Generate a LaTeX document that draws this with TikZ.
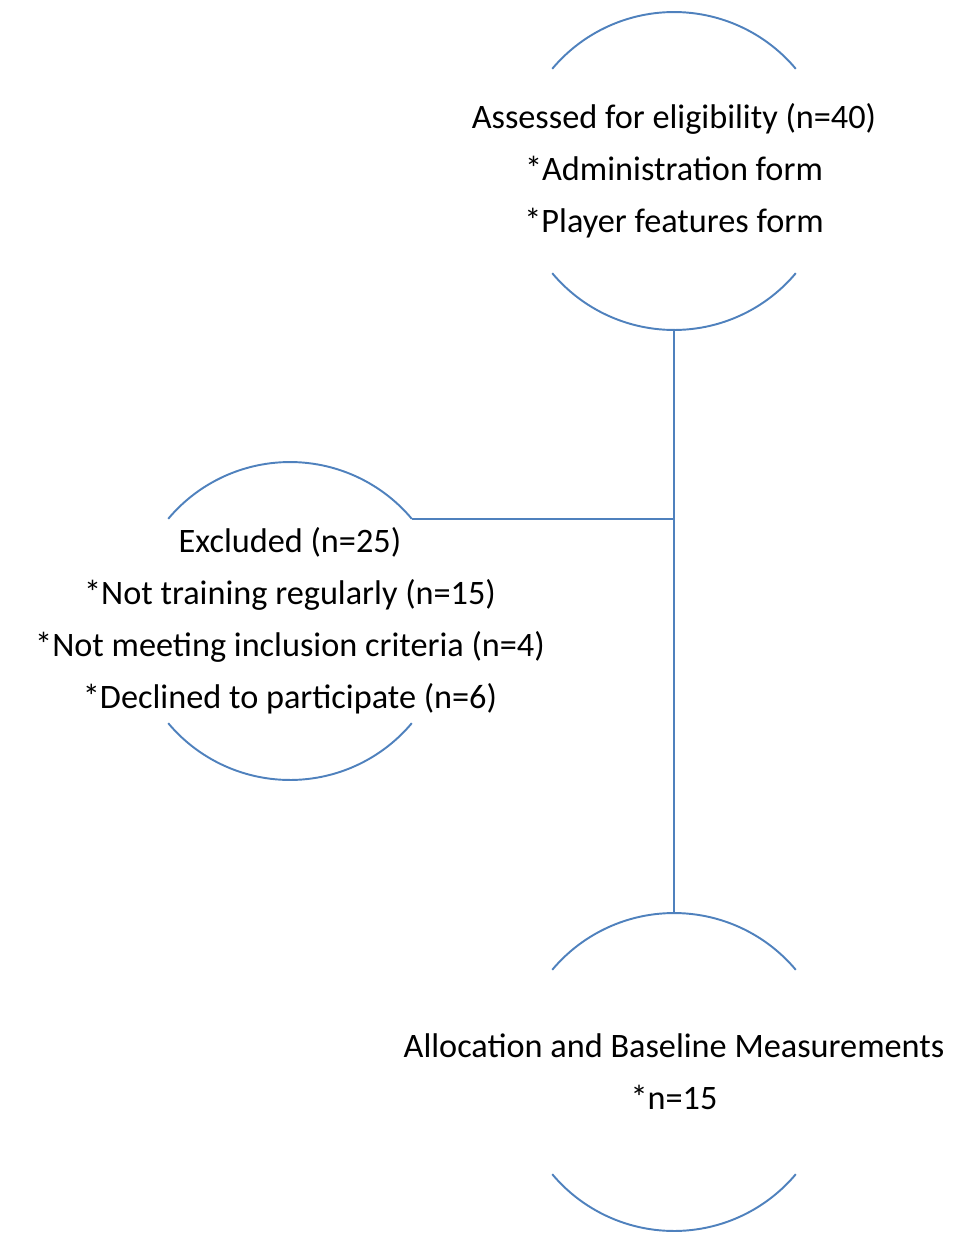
\documentclass[tikz,border=0pt]{standalone}
\usepackage{fontspec}
\setmainfont{Carlito}
\usetikzlibrary{calc}
\definecolor{LineClr}{RGB}{79,129,189}

\begin{document}
\begin{tikzpicture}[x=0.02cm,y=-0.02cm]
\tikzset{
  stage/.style={draw=none,inner sep=0pt,align=center,
    font=\fontsize{19.5}{29.6}\selectfont},
  arcline/.style={color=LineClr,line width=1.1pt}
}
\useasboundingbox (0,0) rectangle (974,1244);

\coordinate (assess) at (674,171);
\coordinate (excl) at (290,621);
\coordinate (alloc) at (674,1072);

\node[stage] (assesstext) at (assess) {Assessed for eligibility (n=40)\\*Administration form\\*Player features form};
\node[stage] (excltext) at (excl) {Excluded (n=25)\\*Not training regularly (n=15)\\*Not meeting inclusion criteria (n=4)\\*Declined to participate (n=6)};
\node[stage] (alloctext) at (alloc) {Allocation and Baseline Measurements\\*n=15};

% arcs above and below each stage
\foreach \n in {assess,excl,alloc}{
  \draw[arcline] ([shift={(140:3.18cm)}]\n) arc (140:40:3.18cm);
  \draw[arcline] ([shift={(220:3.18cm)}]\n) arc (220:320:3.18cm);
}

\coordinate (assessB) at ([yshift=-3.18cm]assess);
\coordinate (allocT) at ([yshift=3.18cm]alloc);
\coordinate (exclR) at ([shift={(40:3.18cm)}]excl);
\draw[arcline] (assessB) -- (allocT);
\draw[arcline] (exclR) -- (exclR -| assessB);

\end{tikzpicture}
\end{document}
